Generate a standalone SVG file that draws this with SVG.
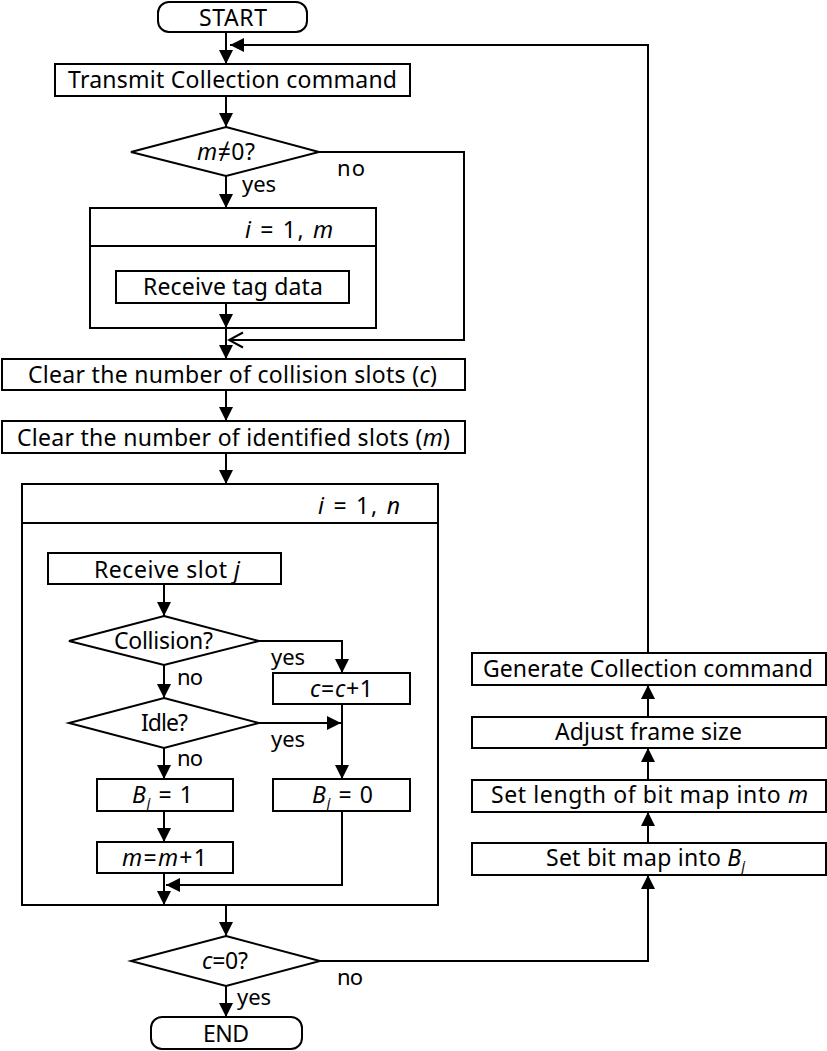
<svg xmlns="http://www.w3.org/2000/svg" width="827" height="1051" viewBox="0 0 827 1051">
<defs>
<style>
.b{fill:#fff;stroke:#000;stroke-width:2}
.c{fill:none;stroke:#000;stroke-width:2}
text{font-family:"Noto Sans","Open Sans","DejaVu Sans",sans-serif;font-size:23px;fill:#000;text-anchor:middle}
.l{font-size:22px}
.i{font-style:italic}
.s{font-style:italic;font-size:14px}
</style>
<marker id="a" markerUnits="userSpaceOnUse" markerWidth="14" markerHeight="14" viewBox="0 0 14 14" refX="14" refY="7" orient="auto">
<path d="M0,0 L14,7 L0,14 z" fill="#000"/>
</marker>
<marker id="o" markerUnits="userSpaceOnUse" markerWidth="18" markerHeight="18" viewBox="0 0 18 18" refX="16" refY="9" orient="auto">
<path d="M2,1.5 L16,9 L2,16.5" fill="none" stroke="#000" stroke-width="2"/>
</marker>
</defs>
<rect width="827" height="1051" fill="#fff"/>

<g id="start">
<rect class="b" x="158" y="2" width="149" height="30" rx="11"/>
<text x="233" y="26" textLength="68">START</text>
</g>
<g id="transmit">
<rect class="b" x="55" y="64" width="355" height="32"/>
<text x="232.5" y="88" textLength="329">Transmit Collection command</text>
</g>
<g id="dec-m">
<polygon class="b" points="226,127 319,152 226,176 131,152"/>
<text x="226" y="160" textLength="58"><tspan class="i">m</tspan>≠0?</text>
</g>
<g id="loop-m">
<rect class="b" x="90" y="208" width="286" height="120"/>
<line class="c" x1="90" y1="246" x2="376" y2="246"/>
<text x="289" y="238" textLength="88"><tspan class="i">i</tspan> = 1, <tspan class="i">m</tspan></text>
</g>
<g id="receive-tag">
<rect class="b" x="116" y="271" width="233" height="32"/>
<text x="233" y="295" textLength="180">Receive tag data</text>
</g>
<g id="clear-c">
<rect class="b" x="2" y="359" width="463" height="31"/>
<text x="232.5" y="383" textLength="409">Clear the number of collision slots (<tspan class="i">c</tspan>)</text>
</g>
<g id="clear-m">
<rect class="b" x="2" y="421" width="463" height="32"/>
<text x="233.5" y="446" textLength="433">Clear the number of identified slots (<tspan class="i">m</tspan>)</text>
</g>
<g id="loop-n">
<rect class="b" x="22" y="484" width="416" height="421"/>
<line class="c" x1="22" y1="523" x2="438" y2="523"/>
<text x="359" y="514" textLength="82"><tspan class="i">i</tspan> = 1, <tspan class="i">n</tspan></text>
</g>
<g id="receive-slot">
<rect class="b" x="48" y="553" width="233" height="31"/>
<text x="167" y="578" textLength="146">Receive slot <tspan class="i">j</tspan></text>
</g>
<g id="dec-collision">
<polygon class="b" points="164,616 259,641 164,665 69,641"/>
<text x="163.5" y="649" textLength="99">Collision?</text>
</g>
<g id="c-inc">
<rect class="b" x="273" y="673" width="137" height="31"/>
<text x="341.5" y="697" textLength="63"><tspan class="i">c</tspan>=<tspan class="i">c</tspan>+1</text>
</g>
<g id="dec-idle">
<polygon class="b" points="164,698 259,723 164,748 69,723"/>
<text x="164.5" y="731" textLength="47">Idle?</text>
</g>
<g id="bj1">
<rect class="b" x="97" y="779" width="136" height="32"/>
<text x="162.5" y="803" textLength="61"><tspan class="i">B</tspan><tspan class="s" dy="5">j</tspan><tspan dy="-5"> = 1</tspan></text>
</g>
<g id="bj0">
<rect class="b" x="273" y="779" width="137" height="32"/>
<text x="342.5" y="803" textLength="61"><tspan class="i">B</tspan><tspan class="s" dy="5">j</tspan><tspan dy="-5"> = 0</tspan></text>
</g>
<g id="m-inc">
<rect class="b" x="97" y="842" width="136" height="31"/>
<text x="164.5" y="866" textLength="85"><tspan class="i">m</tspan>=<tspan class="i">m</tspan>+1</text>
</g>
<g id="dec-c0">
<polygon class="b" points="226,936 320,961 226,986 131,961"/>
<text x="225" y="969" textLength="46"><tspan class="i">c</tspan>=0?</text>
</g>
<g id="end">
<rect class="b" x="151" y="1017" width="151" height="32" rx="11"/>
<text x="226" y="1042" textLength="46">END</text>
</g>
<g id="generate">
<rect class="b" x="472" y="653" width="354" height="32"/>
<text x="648" y="677" textLength="330">Generate Collection command</text>
</g>
<g id="adjust">
<rect class="b" x="472" y="717" width="354" height="31"/>
<text x="648.5" y="740" textLength="187">Adjust frame size</text>
</g>
<g id="set-length">
<rect class="b" x="472" y="780" width="354" height="32"/>
<text x="649.5" y="803" textLength="317">Set length of bit map into <tspan class="i">m</tspan></text>
</g>
<g id="set-bitmap">
<rect class="b" x="472" y="843" width="354" height="32"/>
<text x="645.5" y="866" textLength="199">Set bit map into <tspan class="i">B</tspan><tspan class="s" dy="5">j</tspan></text>
</g>

<g id="connectors">
<line class="c" x1="226" y1="32" x2="226" y2="64" marker-end="url(#a)"/>
<path class="c" d="M648,653 V45 H230" marker-end="url(#a)"/>
<line class="c" x1="226" y1="96" x2="226" y2="127" marker-end="url(#a)"/>
<line class="c" x1="226" y1="176" x2="226" y2="208" marker-end="url(#a)"/>
<path class="c" d="M319,152 H464 V340 H229" marker-end="url(#o)"/>
<line class="c" x1="226" y1="303" x2="226" y2="328" marker-end="url(#a)"/>
<line class="c" x1="226" y1="328" x2="226" y2="359" marker-end="url(#a)"/>
<line class="c" x1="226" y1="390" x2="226" y2="421" marker-end="url(#a)"/>
<line class="c" x1="226" y1="453" x2="226" y2="484" marker-end="url(#a)"/>
<line class="c" x1="164" y1="584" x2="164" y2="616" marker-end="url(#a)"/>
<path class="c" d="M259,641 H342 V673" marker-end="url(#a)"/>
<line class="c" x1="164" y1="665" x2="164" y2="698" marker-end="url(#a)"/>
<path class="c" d="M259,723 H341" marker-end="url(#a)"/>
<line class="c" x1="164" y1="748" x2="164" y2="779" marker-end="url(#a)"/>
<line class="c" x1="342" y1="704" x2="342" y2="779" marker-end="url(#a)"/>
<line class="c" x1="164" y1="811" x2="164" y2="842" marker-end="url(#a)"/>
<path class="c" d="M342,811 V885 H166" marker-end="url(#a)"/>
<line class="c" x1="164" y1="873" x2="164" y2="905" marker-end="url(#a)"/>
<line class="c" x1="226" y1="905" x2="226" y2="936" marker-end="url(#a)"/>
<line class="c" x1="226" y1="986" x2="226" y2="1017" marker-end="url(#a)"/>
<path class="c" d="M320,961 H648 V875" marker-end="url(#a)"/>
<line class="c" x1="648" y1="843" x2="648" y2="812" marker-end="url(#a)"/>
<line class="c" x1="648" y1="780" x2="648" y2="748" marker-end="url(#a)"/>
<line class="c" x1="648" y1="717" x2="648" y2="685" marker-end="url(#a)"/>
<text class="l" x="351" y="176" textLength="28">no</text>
<text class="l" x="259" y="192" textLength="34">yes</text>
<text class="l" x="288" y="665" textLength="34">yes</text>
<text class="l" x="190" y="685" textLength="26">no</text>
<text class="l" x="288" y="747" textLength="34">yes</text>
<text class="l" x="190" y="766" textLength="26">no</text>
<text class="l" x="350" y="985" textLength="26">no</text>
<text class="l" x="254" y="1005" textLength="34">yes</text>
</g>
</svg>
